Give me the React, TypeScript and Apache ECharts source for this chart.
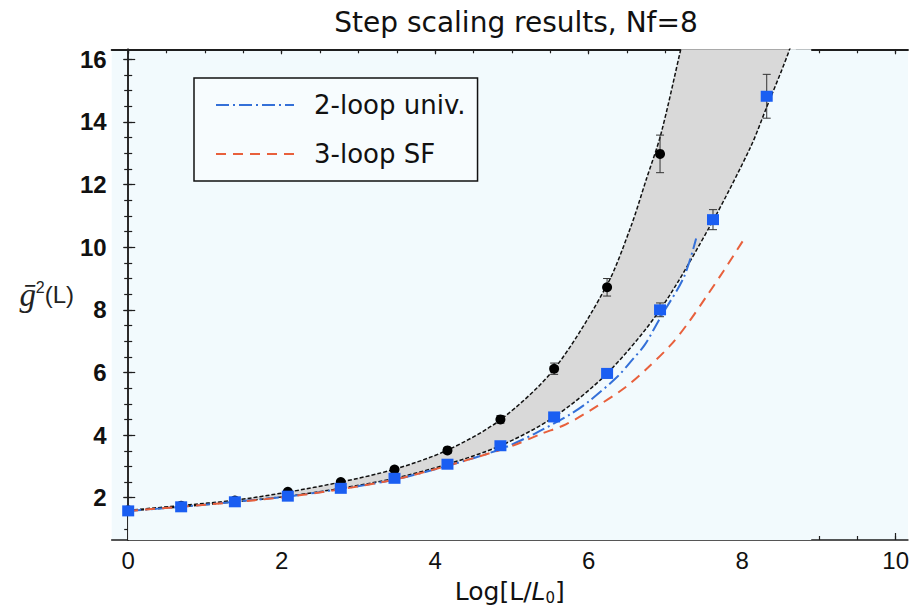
import React, { useEffect, useRef } from "react";
import * as echarts from "echarts";

// Step scaling measurements (Log[L/L0] grid, L doubling each step)
const stepX = [0, 0.69, 1.39, 2.08, 2.77, 3.47, 4.16, 4.85, 5.55, 6.24, 6.93, 7.62, 8.32];

// upper data set (black points) and its errors
const upperY = [1.6, 1.74, 1.91, 2.19, 2.5, 2.9, 3.51, 4.5, 6.12, 8.72, 12.98];
const upperErr = [0.02, 0.02, 0.03, 0.04, 0.05, 0.07, 0.09, 0.12, 0.18, 0.28, 0.6];

// lower data set (blue squares) and its errors
const lowerY = [1.58, 1.71, 1.87, 2.05, 2.3, 2.62, 3.07, 3.66, 4.58, 5.97, 8.0, 10.88, 14.82];
const lowerErr = [0.02, 0.02, 0.03, 0.03, 0.04, 0.05, 0.06, 0.08, 0.1, 0.15, 0.22, 0.32, 0.7];

// fitted envelope curves bounding the shaded band
const upperFitX = [0, 0.69, 1.39, 2.08, 2.77, 3.47, 4.16, 4.85, 5.55, 6.24, 6.55, 6.75, 6.94, 7.2, 7.3];
const upperFitY = [1.6, 1.75, 1.92, 2.18, 2.5, 2.91, 3.52, 4.49, 6.11, 8.8, 10.66, 12.16, 13.6, 16.32, 17.4];
const lowerFitX = [0, 0.69, 1.39, 2.08, 2.77, 3.47, 4.16, 4.85, 5.55, 6.24, 6.93, 7.62, 8.11, 8.3, 8.63, 8.9];
const lowerFitY = [1.58, 1.71, 1.87, 2.05, 2.3, 2.62, 3.07, 3.66, 4.58, 5.97, 8.0, 10.85, 13.2, 14.35, 16.4, 18.6];
// band top continues along the frame top until the lower curve leaves the plot
const bandEdgeX = [7.4, 8.7];
const bandEdgeY = [17.6, 17.6];

// perturbative running
const twoLoopX = [0, 0.69, 1.39, 2.08, 2.77, 3.47, 4.16, 4.85, 5.3, 5.77, 6.01, 6.38, 6.57, 6.73, 6.94, 7.24, 7.4];
const twoLoopY = [1.58, 1.71, 1.87, 2.04, 2.28, 2.58, 3.02, 3.55, 4.05, 4.68, 5.09, 5.88, 6.41, 6.88, 7.78, 9.04, 10.28];
const threeLoopX = [0, 0.69, 1.39, 2.08, 2.77, 3.47, 4.13, 4.56, 5.0, 5.38, 5.71, 6.12, 6.47, 6.77, 7.07, 7.29, 7.53, 7.76, 8.04];
const threeLoopY = [1.58, 1.71, 1.86, 2.03, 2.27, 2.58, 3.0, 3.31, 3.65, 4.04, 4.35, 4.94, 5.51, 6.15, 6.88, 7.56, 8.41, 9.25, 10.32];

// axis ticks
const xMajor = [0, 2, 4, 6, 8, 10];
const xMinor = [0, 0.5, 1, 1.5, 2, 2.5, 3, 3.5, 4, 4.5, 5, 5.5, 6, 6.5, 7, 7.5, 8, 8.5, 9, 9.5, 10];
const yMajor = [2, 4, 6, 8, 10, 12, 14, 16];
const yMinor = [1, 1.5, 2, 2.5, 3, 3.5, 4, 4.5, 5, 5.5, 6, 6.5, 7, 7.5, 8, 8.5, 9, 9.5, 10, 10.5, 11, 11.5, 12, 12.5, 13, 13.5, 14, 14.5, 15, 15.5, 16];

const X_MIN = -0.215;
const X_MAX = 10.16;
const Y_MIN = 0.65;
const Y_MAX = 16.32;

const PLOT_BG = "#f2fafd";
const FRAME = "#1e1e1e";
const SMOOTH = 0.3;

const pairs = (xs: number[], ys: number[]) => ys.map((y, i) => [xs[i], y]);
const triples = (xs: number[], ys: number[], es: number[]) => ys.map((y, i) => [xs[i], y, es[i]]);

function errorBars(color: string) {
  return (params: any, api: any) => {
    const x = api.value(0);
    const y = api.value(1);
    const e = api.value(2);
    const top = api.coord([x, y + e]);
    const bot = api.coord([x, y - e]);
    const hw = 4;
    const style = { stroke: color, lineWidth: 1 };
    return {
      type: "group",
      children: [
        { type: "line", shape: { x1: top[0], y1: top[1], x2: bot[0], y2: bot[1] }, style },
        { type: "line", shape: { x1: top[0] - hw, y1: top[1], x2: top[0] + hw, y2: top[1] }, style },
        { type: "line", shape: { x1: bot[0] - hw, y1: bot[1], x2: bot[0] + hw, y2: bot[1] }, style },
      ],
    };
  };
}

function frameAxis(position: string, major: boolean, values: number[], extra: any = {}) {
  const horizontal = position === "bottom" || position === "top";
  return {
    type: "value",
    position,
    min: horizontal ? X_MIN : Y_MIN,
    max: horizontal ? X_MAX : Y_MAX,
    axisLine: { show: major, lineStyle: { color: FRAME, width: position === "top" ? 2 : 1.5 } },
    axisTick: {
      show: true,
      inside: true,
      customValues: values,
      length: major ? (position === "bottom" || position === "left" ? 7 : 5) : 4,
      lineStyle: { color: FRAME, width: 1.2 },
    },
    axisLabel: { show: false },
    splitLine: { show: false },
    ...extra,
  };
}

const fitLine = (name: string, xs: number[], ys: number[]) => ({
  name,
  type: "line",
  data: pairs(xs, ys),
  smooth: SMOOTH,
  symbol: "none",
  z: 2,
  lineStyle: { color: "#111", width: 1.5, type: [4, 2] },
});

export default function App() {
  const ref = useRef<HTMLDivElement>(null);

  useEffect(() => {
    if (!ref.current) return;
    const chart = echarts.init(ref.current, null, { renderer: "svg" });

    const option: any = {
      animation: false,
      backgroundColor: "#ffffff",
      title: {
        text: "Step scaling results, Nf=8",
        left: 511,
        top: 3,
        textAlign: "center",
        textStyle: { fontFamily: "DejaVu Sans", fontSize: 28, fontWeight: "normal", color: "#111" },
      },
      legend: {
        data: ["2-loop univ.", "3-loop SF"],
        orient: "vertical",
        left: 194,
        top: 78,
        itemWidth: 78,
        itemHeight: 2,
        itemGap: 23,
        padding: [14, 12, 14, 21],
        borderColor: "#111",
        borderWidth: 1.5,
        backgroundColor: "#f7fcfe",
        itemStyle: { opacity: 0 },
        textStyle: { fontFamily: "DejaVu Sans", fontSize: 26, color: "#111", padding: [0, 0, 0, 15] },
      },
      grid: {
        left: 111.7,
        right: 1,
        top: 49.3,
        bottom: 64,
        show: true,
        backgroundColor: PLOT_BG,
        borderWidth: 0,
      },
      xAxis: [
        frameAxis("bottom", true, xMajor, {
          axisLabel: {
            show: true,
            customValues: xMajor,
            margin: 8,
            fontFamily: "Liberation Sans",
            fontSize: 24,
            color: "#111",
          },
          name: "{a|Log[L/}{b|L}{c|0}{a|]}",
          nameLocation: "middle",
          nameGap: 37,
          nameTextStyle: {
            rich: {
              a: { fontFamily: "DejaVu Sans", fontSize: 25, color: "#111" },
              b: { fontFamily: "DejaVu Sans", fontStyle: "italic", fontSize: 25, color: "#111" },
              c: { fontFamily: "DejaVu Sans", fontSize: 15, color: "#111", padding: [13, 0, 0, 0] },
            },
          },
        }),
        frameAxis("bottom", false, xMinor),
        frameAxis("top", true, xMajor),
        frameAxis("top", false, xMinor),
      ],
      yAxis: [
        frameAxis("left", true, yMajor, {
          axisLabel: {
            show: true,
            customValues: yMajor,
            margin: 5,
            fontFamily: "Liberation Sans",
            fontWeight: "bold",
            fontSize: 24,
            color: "#111",
          },
          name: "{g|ḡ}{s|2}{l|(L)}",
          nameLocation: "middle",
          nameRotate: 0,
          nameGap: 37,
          nameTextStyle: {
            rich: {
              g: { fontFamily: "Liberation Serif", fontStyle: "italic", fontSize: 33, color: "#222" },
              s: { fontFamily: "Liberation Sans", fontSize: 16, color: "#222", padding: [0, 0, 14, 0] },
              l: { fontFamily: "Liberation Sans", fontSize: 24, color: "#222" },
            },
          },
        }),
        frameAxis("left", false, yMinor),
        frameAxis("right", true, yMajor),
        frameAxis("right", false, yMinor),
      ],
      series: [
        {
          name: "band",
          type: "line",
          data: pairs(upperFitX, upperFitY).concat(pairs(bandEdgeX, bandEdgeY)),
          smooth: SMOOTH,
          symbol: "none",
          silent: true,
          z: 1,
          lineStyle: { width: 0 },
          areaStyle: { color: "#d9d9d9", opacity: 1, origin: "start" },
        },
        {
          name: "band-cut",
          type: "line",
          data: pairs(lowerFitX, lowerFitY),
          smooth: SMOOTH,
          symbol: "none",
          silent: true,
          z: 1,
          lineStyle: { width: 0 },
          areaStyle: { color: PLOT_BG, opacity: 1, origin: "start" },
        },
        fitLine("upper fit", upperFitX, upperFitY),
        fitLine("lower fit", lowerFitX, lowerFitY),
        {
          name: "2-loop univ.",
          type: "line",
          data: pairs(twoLoopX, twoLoopY),
          smooth: SMOOTH,
          symbol: "none",
          z: 2,
          itemStyle: { color: "#3470d8" },
          lineStyle: { color: "#3470d8", width: 2, type: [13, 4, 2, 4] },
        },
        {
          name: "3-loop SF",
          type: "line",
          data: pairs(threeLoopX, threeLoopY),
          smooth: SMOOTH,
          symbol: "none",
          z: 2,
          itemStyle: { color: "#e8603c" },
          lineStyle: { color: "#e8603c", width: 2, type: [10, 7] },
        },
        {
          name: "upper errors",
          type: "custom",
          data: triples(stepX, upperY, upperErr),
          encode: { x: 0, y: 1 },
          renderItem: errorBars("#333"),
          silent: true,
          z: 3,
        },
        {
          name: "upper points",
          type: "scatter",
          data: pairs(stepX, upperY),
          symbol: "circle",
          symbolSize: 10,
          z: 4,
          itemStyle: { color: "#000", opacity: 1 },
        },
        {
          name: "lower errors",
          type: "custom",
          data: triples(stepX, lowerY, lowerErr),
          encode: { x: 0, y: 1 },
          renderItem: errorBars("#333"),
          silent: true,
          z: 5,
        },
        {
          name: "lower points",
          type: "scatter",
          data: pairs(stepX, lowerY),
          symbol: "rect",
          symbolSize: [12, 11],
          z: 6,
          itemStyle: { color: "#1a5ef2", opacity: 1 },
        },
      ],
    };

    chart.setOption(option);
    return () => chart.dispose();
  }, []);

  return (
    <div
      ref={ref}
      style={{ position: "fixed", left: 0, top: 0, width: 912, height: 610 }}
    />
  );
}
